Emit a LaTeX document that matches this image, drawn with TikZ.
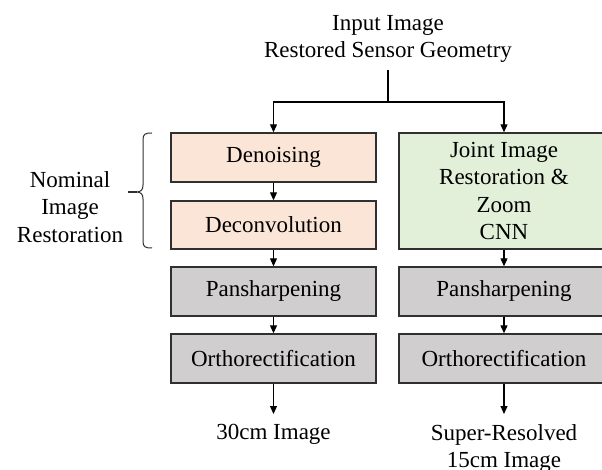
\documentclass[tikz,border=0pt]{standalone}
\usepackage{fontspec}
\setmainfont{Liberation Serif}
\usetikzlibrary{arrows.meta}
\definecolor{peach}{HTML}{FBE5D6}
\definecolor{mint}{HTML}{E2F0D9}
\definecolor{greybox}{HTML}{D0CECE}
\definecolor{edgec}{HTML}{303030}
\begin{document}
\begin{tikzpicture}[x=1pt,y=-1pt,
  font=\fontsize{23}{27.5}\selectfont,
  blk/.style={draw=edgec, line width=1.4pt, minimum height=49pt, inner sep=0pt, align=center},
  arr/.style={-{Triangle[length=8pt,width=7pt]}, line width=1.1pt},
  lbl/.style={align=center, inner sep=0pt}]
\useasboundingbox (0,0) rectangle (602,470);
\begin{scope}
\clip (0,0) rectangle (602,470);
% title
\node[lbl] (title) at (388,39) {Input Image\\Restored Sensor Geometry};
\coordinate (tbot) at (388,70);
\coordinate (split) at (388,102);
% left column
\node[blk, fill=peach, minimum width=205pt] (den) at (273.5,157.5) {Denoising};
\node[blk, fill=peach, minimum width=205pt, minimum height=48pt] (dec) at (273.5,225) {Deconvolution};
\node[blk, fill=greybox, minimum width=205pt] (panL) at (273.5,291.5) {Pansharpening};
\node[blk, fill=greybox, minimum width=205pt] (ortL) at (273.5,358.5) {Orthorectification};
% right column
\node[blk, fill=mint, minimum width=210pt, minimum height=116pt] (joint) at (504,191) {Joint Image\\Restoration \&\\Zoom\\CNN};
\node[blk, fill=greybox, minimum width=210pt] (panR) at (504,291.5) {Pansharpening};
\node[blk, fill=greybox, minimum width=210pt] (ortR) at (504,358.5) {Orthorectification};
% outputs
\node[lbl, anchor=north] (outL) at (273.5,424) {30cm Image};
\node[lbl, anchor=north] (outR) at (504,424) {Super-Resolved\\15cm Image};
% side label
\node[lbl] (nom) at (70,207) {Nominal\\Image\\Restoration};
% connectors
\draw[line width=1.1pt] (tbot) -- (split);
\draw[arr] (split) -| (den.north);
\draw[arr] (split) -| (joint.north);
\draw[arr] (den) -- (dec);
\draw[arr] (dec) -- (panL);
\draw[arr] (panL) -- (ortL);
\draw[arr] (ortL) -- ([yshift=10pt]outL.north);
\draw[arr] (joint) -- (panR);
\draw[arr] (panR) -- (ortR);
\draw[arr] (ortR) -- ([yshift=10pt]outR.north);
% brace
\draw[edgec, line width=1pt, line join=round]
  (152,133) .. controls (145,133) and (143,134) .. (143,140) -- (143,185)
  .. controls (143,190) and (141,192) .. (136,192)
  .. controls (141,192) and (143,194) .. (143,199) -- (143,241)
  .. controls (143,247) and (145,248) .. (152,248);
\draw[edgec, line width=1.6pt] (128,192) -- (137,192);
\end{scope}
\end{tikzpicture}
\end{document}
